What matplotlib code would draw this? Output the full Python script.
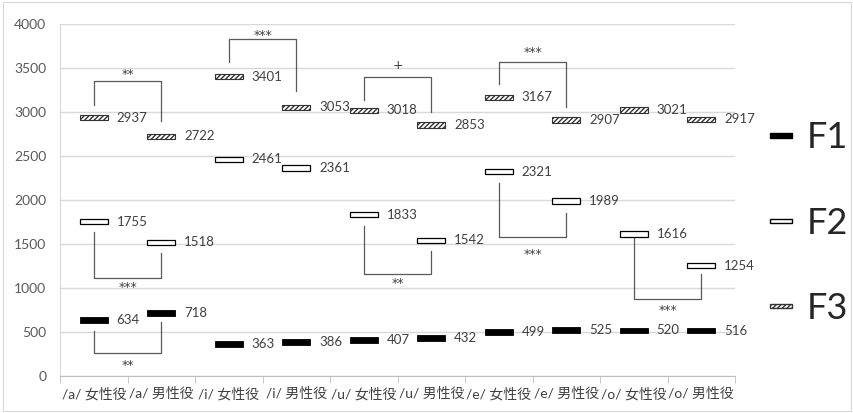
import matplotlib
matplotlib.use("Agg")
import matplotlib.pyplot as plt
import numpy as np
from matplotlib.patches import Patch, Rectangle
from matplotlib.legend_handler import HandlerPatch

plt.rcParams['font.family'] = ['Lato', 'Noto Sans CJK JP', 'DejaVu Sans']
plt.rcParams['hatch.linewidth'] = 1.0

categories = ["/a/ 女性役", "/a/ 男性役", "/i/ 女性役", "/i/ 男性役", "/u/ 女性役",
              "/u/ 男性役", "/e/ 女性役", "/e/ 男性役", "/o/ 女性役", "/o/ 男性役"]
f1 = [634, 718, 363, 386, 407, 432, 499, 525, 520, 516]
f2 = [1755, 1518, 2461, 2361, 1833, 1542, 2321, 1989, 1616, 1254]
f3 = [2937, 2722, 3401, 3053, 3018, 2853, 3167, 2907, 3021, 2917]

# significance brackets: (left category, left end, bracket level, right end, mark, mark level)
brackets = [
    (0, 3080, 3350, 2898, "**", 3455),
    (2, 3568, 3830, 3239, "***", 3898),
    (4, 3136, 3398, 3000, "+", 3557),
    (6, 3318, 3568, 3057, "***", 3705),
    (0, 1636, 1114, 1398, "***", 1034),
    (4, 1705, 1159, 1420, "**", 1080),
    (6, 2193, 1580, 1852, "***", 1409),
    (8, 1590, 875, 1159, "***", 773),
    (0, 511, 261, 614, "**", 148),
]

fig = plt.figure(figsize=(8.54, 4.13), dpi=100)
ax = fig.add_axes([0.0703, 0.0896, 0.7904, 0.8523])

x = np.arange(len(categories))
h = 62
w = 0.42
ax.bar(x, h, bottom=np.array(f1) - h / 2, width=w, color='black', edgecolor='black', lw=0.6, zorder=3)
ax.bar(x, h, bottom=np.array(f2) - h / 2, width=w, color='white', edgecolor='black', lw=0.9, zorder=3)
ax.bar(x, h, bottom=np.array(f3) - h / 2, width=w, color='white', edgecolor='#333333', lw=0.8,
       hatch='///////', zorder=3)

for series in (f1, f2, f3):
    for i, v in enumerate(series):
        ax.text(i + 0.34, v, str(v), va='center', ha='left', fontsize=9.5, color='#404040', zorder=4)

for i, left, level, right, mark, mark_y in brackets:
    ax.plot([i, i, i + 1, i + 1], [left, level, level, right], color='#595959', lw=0.9, zorder=2)
    ax.text(i + 0.5, mark_y - 30, mark, ha='center', va='center', fontsize=9,
            family='DejaVu Sans', color='#404040')

ax.set_xlim(-0.5, len(categories) - 0.5)
ax.set_ylim(0, 4000)
ax.set_yticks(np.arange(0, 4001, 500))
ax.set_xticks(x)
ax.set_xticklabels(categories, fontsize=10, color='#404040')
ax.set_xticks(np.arange(-0.5, len(categories)), minor=True)
ax.tick_params(axis='x', which='major', length=0, pad=8)
ax.tick_params(axis='x', which='minor', length=5, color='#bfbfbf')
ax.tick_params(axis='y', length=0, pad=10, labelsize=10, labelcolor='#595959')
ax.grid(axis='y', color='#d9d9d9', lw=1)
ax.set_axisbelow(True)
for s in ('top', 'right'):
    ax.spines[s].set_visible(False)
ax.spines['left'].set_color('#d9d9d9')
ax.spines['bottom'].set_color('#bfbfbf')


def thin_patch(legend, orig_handle, xdescent, ydescent, width, height, fontsize):
    return Rectangle((-xdescent, -ydescent + height / 2 - 1.5), width, 3)


handles = [Patch(facecolor='black', edgecolor='black'),
           Patch(facecolor='white', edgecolor='black'),
           Patch(facecolor='white', edgecolor='#333333', hatch='///////')]
fig.legend(handles, ['F1', 'F2', 'F3'], loc='center left', bbox_to_anchor=(0.9016, 0.46),
           frameon=False, fontsize=26, handlelength=0.62, borderpad=0, borderaxespad=0,
           labelspacing=1.45, handletextpad=0.4, labelcolor='#262626',
           handler_map={Patch: HandlerPatch(patch_func=thin_patch)})

fig.patches.append(plt.Rectangle((0.004, 0.004), 0.992, 0.99, transform=fig.transFigure,
                                 fill=False, edgecolor='#d9d9d9', lw=0.8))

fig.savefig('out.png', dpi=100)
